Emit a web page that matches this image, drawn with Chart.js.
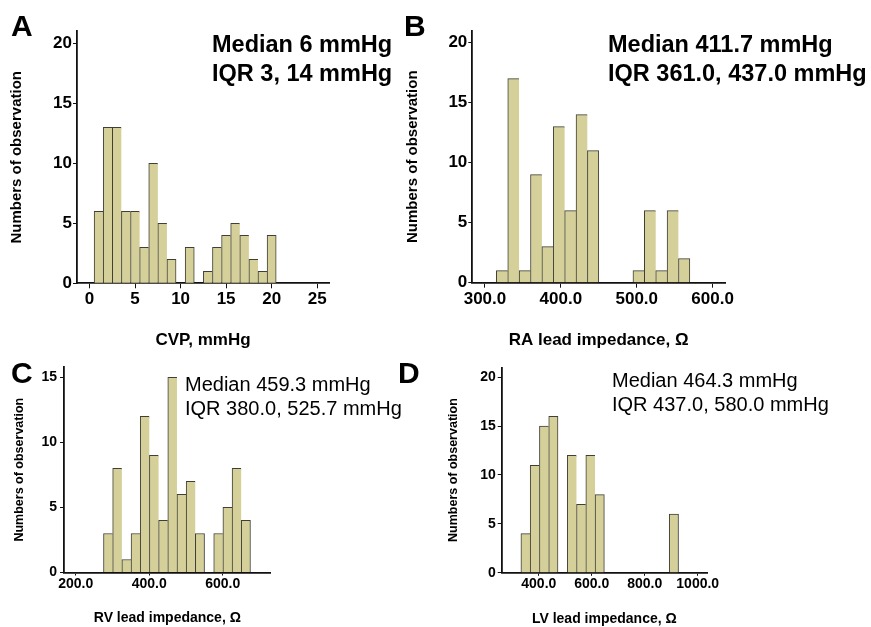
<!DOCTYPE html>
<html>
<head>
<meta charset="utf-8">
<script src="https://cdn.jsdelivr.net/npm/chart.js@4.4.0/dist/chart.umd.min.js"></script>
<style>
  body { margin: 0; background: #fff; }
  #wrap { position: relative; width: 871px; height: 627px; overflow: hidden;
          font-family: "Liberation Sans", Arial, sans-serif; color: #000; }
  canvas { position: absolute; left: 0; top: 0; }
  .letter { position: absolute; font-weight: bold; font-size: 30px; line-height: 30px; }
  .note { position: absolute; white-space: nowrap; }
  .big { font-size: 23.5px; line-height: 28.5px; font-weight: bold; }
  .small { font-size: 20px; line-height: 24px; }
</style>
</head>
<body>
<div id="wrap">
  <canvas id="cvpChart" width="871" height="627"></canvas>
  <canvas id="raChart" width="871" height="627"></canvas>
  <canvas id="rvChart" width="871" height="627"></canvas>
  <canvas id="lvChart" width="871" height="627"></canvas>

  <div class="letter" style="left:11px; top:11px;">A</div>
  <div class="letter" style="left:404px; top:11px;">B</div>
  <div class="letter" style="left:11px; top:358px;">C</div>
  <div class="letter" style="left:398px; top:358px;">D</div>

  <div class="note big" id="noteA" style="left:212px; top:30px;"></div>
  <div class="note big" id="noteB" style="left:608px; top:30px;"></div>
  <div class="note small" id="noteC" style="left:185px; top:372px;"></div>
  <div class="note small" id="noteD" style="left:612px; top:368px;"></div>
</div>
<script>
// bin centres and counts
const cvpBins = [1, 2, 3, 4, 5, 6, 7, 8, 9, 10, 11, 12, 13, 14, 15, 16, 17, 18, 19, 20];
const cvpCounts = [6, 13, 13, 6, 6, 3, 10, 5, 2, 0, 3, 0, 1, 3, 4, 5, 4, 2, 1, 4];

const raBins = [322.5, 337.5, 352.5, 367.5, 382.5, 397.5, 412.5, 427.5, 442.5,
                457.5, 472.5, 487.5, 502.5, 517.5, 532.5, 547.5, 562.5];
const raCounts = [1, 17, 1, 9, 3, 13, 6, 14, 11, 0, 0, 0, 1, 6, 1, 6, 2];

const rvBins = [288, 313, 338, 363, 388, 413, 438, 463, 488, 513, 538, 563, 588, 613, 638, 663];
const rvCounts = [3, 8, 1, 3, 12, 9, 4, 15, 6, 7, 3, 0, 3, 5, 8, 4];

const lvBins = [350, 385, 420, 455, 490, 525, 560, 595, 630, 665, 700, 735, 770, 805, 840, 875, 910];
const lvCounts = [4, 11, 15, 16, 0, 12, 7, 12, 8, 0, 0, 0, 0, 0, 0, 0, 6];

const cvpXTicks = [0, 5, 10, 15, 20, 25];
const raXTicks = [300, 400, 500, 600];
const rvXTicks = [200, 400, 600];
const lvXTicks = [400, 600, 800, 1000];
const countTicks20 = [0, 5, 10, 15, 20];
const countTicks15 = [0, 5, 10, 15];

const notesA = ["Median 6 mmHg", "IQR 3, 14 mmHg"];
const notesB = ["Median 411.7 mmHg", "IQR 361.0, 437.0 mmHg"];
const notesC = ["Median 459.3 mmHg", "IQR 380.0, 525.7 mmHg"];
const notesD = ["Median 464.3 mmHg", "IQR 437.0, 580.0 mmHg"];

const yTitle = "Numbers of observation";

document.getElementById('noteA').innerHTML = notesA.join('<br>');
document.getElementById('noteB').innerHTML = notesB.join('<br>');
document.getElementById('noteC').innerHTML = notesC.join('<br>');
document.getElementById('noteD').innerHTML = notesD.join('<br>');

Chart.defaults.font.family = '"Liberation Sans", Arial, sans-serif';
Chart.defaults.color = '#000';

const BAR_FILL = '#d5d09a';
const BAR_EDGE = '#3f3f36';

function makeHistogram(id, bins, counts, p) {
    const data = bins.map((x, i) => ({x: x, y: counts[i]}));
    return new Chart(document.getElementById(id), {
        type: 'bar',
        data: {
            datasets: [{
                data: data,
                backgroundColor: BAR_FILL,
                borderColor: BAR_EDGE,
                borderWidth: function(ctx) {
                    const next = counts[ctx.dataIndex + 1];
                    return {left: 1, top: 1, right: next ? 0 : 1, bottom: 0};
                },
                borderSkipped: false,
                barPercentage: 1,
                categoryPercentage: 1
            }]
        },
        options: {
            responsive: false,
            animation: false,
            events: [],
            layout: {
                padding: {
                    left: p.titleX - p.yFont / 2,
                    top: p.top,
                    right: 871 - p.right,
                    bottom: 627 - (p.titleY + p.xTitleFont / 2)
                }
            },
            plugins: { legend: { display: false }, tooltip: { enabled: false } },
            scales: {
                x: {
                    type: 'linear',
                    min: p.xMin,
                    max: p.xMax,
                    offset: false,
                    grid: { display: true, offset: false, drawOnChartArea: false, drawTicks: true,
                            tickLength: p.tickLen, tickColor: '#111' },
                    border: { display: true, color: '#111', width: 1.8 },
                    ticks: {
                        font: { size: p.tickFont, weight: 'bold' },
                        padding: p.xPad,
                        maxRotation: 0,
                        autoSkip: false,
                        callback: p.fmt
                    },
                    afterBuildTicks: axis => { axis.ticks = p.xTicks.map(v => ({value: v})); },
                    afterFit: axis => { axis.height = p.titleY + p.xTitleFont / 2 - p.bottom; },
                    title: {
                        display: true,
                        text: p.xTitle,
                        padding: 0,
                        font: { size: p.xTitleFont, weight: 'bold', lineHeight: 1 }
                    }
                },
                y: {
                    min: 0,
                    max: p.yMax,
                    grid: { display: true, drawOnChartArea: false, drawTicks: true,
                            tickLength: 4, tickColor: '#111' },
                    border: { display: true, color: '#111', width: 1.8 },
                    ticks: {
                        font: { size: p.tickFont, weight: 'bold' },
                        padding: p.yPad
                    },
                    afterBuildTicks: axis => { axis.ticks = p.yTicks.map(v => ({value: v})); },
                    afterFit: axis => { axis.width = p.left - (p.titleX - p.yFont / 2); },
                    title: {
                        display: true,
                        text: yTitle,
                        padding: 0,
                        font: { size: p.yFont, weight: 'bold', lineHeight: 1 }
                    }
                }
            }
        }
    });
}

const oneDecimal = v => v.toFixed(1);
const plain = v => String(v);

makeHistogram('cvpChart', cvpBins, cvpCounts, {
    left: 77, right: 329, top: 31.3, bottom: 283.3,
    xMin: -1.38, xMax: 26.3, yMax: 21,
    xTicks: cvpXTicks, yTicks: countTicks20, fmt: plain,
    tickFont: 17, tickLen: 5, xPad: 1, yPad: 1,
    xTitle: "CVP, mmHg", xTitleFont: 17, titleY: 340,
    yFont: 15, titleX: 17.3
});

makeHistogram('raChart', raBins, raCounts, {
    left: 472.3, right: 725, top: 30.7, bottom: 282.7,
    xMin: 283.3, xMax: 616.3, yMax: 21,
    xTicks: raXTicks, yTicks: countTicks20, fmt: oneDecimal,
    tickFont: 17, tickLen: 5, xPad: 1, yPad: 1,
    xTitle: "RA lead impedance, \u03A9", xTitleFont: 17, titleY: 340,
    yFont: 15, titleX: 413
});

makeHistogram('rvChart', rvBins, rvCounts, {
    left: 64, right: 270.7, top: 366.9, bottom: 572.5,
    xMin: 168, xMax: 730.6, yMax: 15.8,
    xTicks: rvXTicks, yTicks: countTicks15, fmt: oneDecimal,
    tickFont: 14, tickLen: 3, xPad: 0, yPad: 3,
    xTitle: "RV lead impedance, \u03A9", xTitleFont: 14, titleY: 618,
    yFont: 12.5, titleX: 20
});

makeHistogram('lvChart', lvBins, lvCounts, {
    left: 501.7, right: 707, top: 367.4, bottom: 572.8,
    xMin: 260, xMax: 1035, yMax: 21,
    xTicks: lvXTicks, yTicks: countTicks20, fmt: oneDecimal,
    tickFont: 14, tickLen: 3, xPad: 0, yPad: 2,
    xTitle: "LV lead impedance, \u03A9", xTitleFont: 14, titleY: 619,
    yFont: 12.5, titleX: 454
});
</script>
</body>
</html>
